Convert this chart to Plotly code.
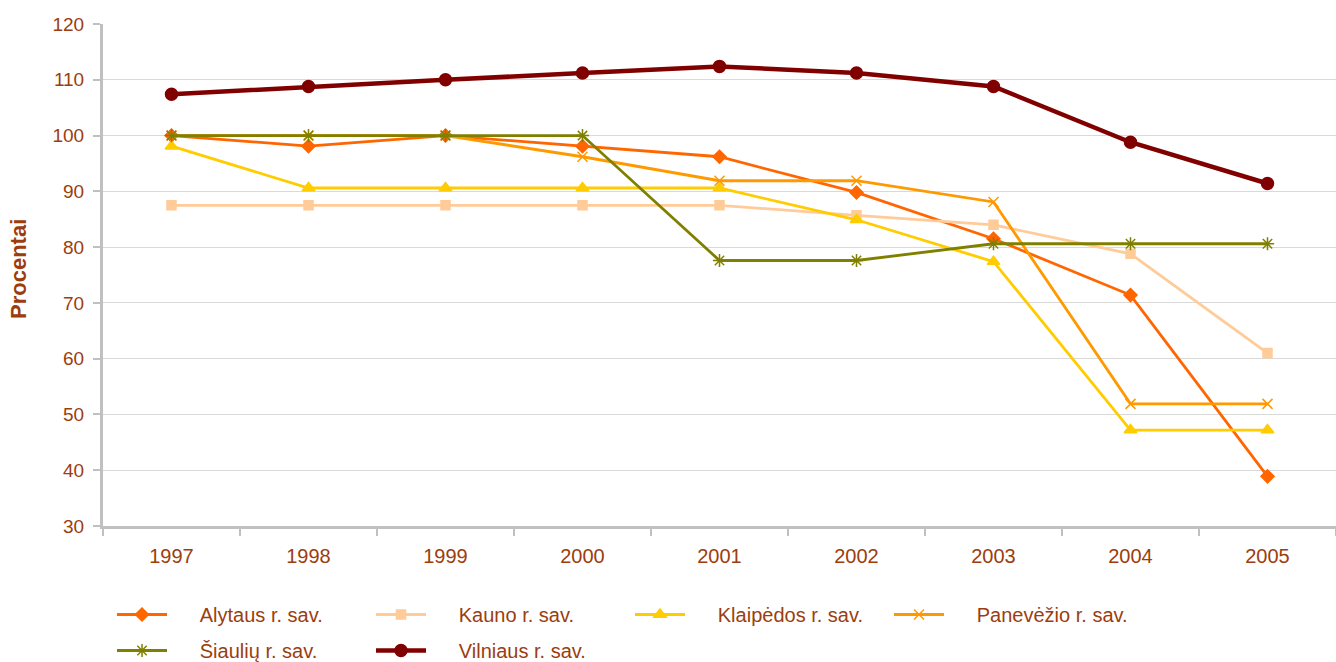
import plotly.graph_objects as go

years = ["1997", "1998", "1999", "2000", "2001", "2002", "2003", "2004", "2005"]

alytaus = [100.0, 98.1, 100.0, 98.1, 96.2, 89.8, 81.5, 71.4, 38.9]
kauno = [87.5, 87.5, 87.5, 87.5, 87.5, 85.7, 84.0, 78.8, 61.0]
klaipedos = [98.1, 90.6, 90.6, 90.6, 90.6, 84.9, 77.4, 47.2, 47.2]
panevezio = [100.0, 100.0, 100.0, 96.2, 91.9, 91.9, 88.1, 51.9, 51.9]
siauliu = [100.0, 100.0, 100.0, 100.0, 77.6, 77.6, 80.6, 80.6, 80.6]
vilniaus = [107.4, 108.8, 110.0, 111.2, 112.4, 111.2, 108.8, 98.8, 91.4]

series = [
    ("Alytaus r. sav.", alytaus, "#FF6600", "diamond", 10, 2.8, "legend"),
    ("Kauno r. sav.", kauno, "#FFCC99", "square", 9, 2.8, "legend"),
    ("Klaipėdos r. sav.", klaipedos, "#FFCC00", "triangle-up", 11, 2.8, "legend"),
    ("Panevėžio r. sav.", panevezio, "#FF9900", "x-thin-open", 10, 2.8, "legend"),
    ("Šiaulių r. sav.", siauliu, "#808000", "asterisk-open", 11, 2.8, "legend2"),
    ("Vilniaus r. sav.", vilniaus, "#800000", "circle", 12, 4.5, "legend2"),
]

text_color = "#9C3D0E"
font_family = "Liberation Sans, Arial, sans-serif"
pad = "\u00a0" * 5

fig = go.Figure()
for name, vals, color, sym, size, lw, lg in series:
    fig.add_trace(go.Scatter(
        x=years, y=vals, name=pad + name, mode="lines+markers",
        line=dict(color=color, width=lw),
        marker=dict(symbol=sym, size=size, color=color,
                    line=dict(color=color, width=1.5)),
        legend=lg,
    ))

legend_common = dict(
    orientation="h", xref="container", yref="container",
    xanchor="left", yanchor="top",
    entrywidth=194, entrywidthmode="pixels", itemwidth=50,
    font=dict(size=20, color=text_color, family=font_family),
    traceorder="normal", bgcolor="rgba(0,0,0,0)",
)

fig.update_layout(
    width=1336, height=662,
    paper_bgcolor="white", plot_bgcolor="white",
    margin=dict(l=103, r=0, t=24, b=136, autoexpand=False),
    font=dict(family=font_family, size=19, color=text_color),
    xaxis=dict(
        type="category", range=[-0.5, 8.5],
        showgrid=False, showline=True, linecolor="#C0C0C0", linewidth=3,
        ticks="outside", tickson="boundaries", ticklen=7, tickwidth=2, tickcolor="#C0C0C0",
        tickfont=dict(size=20, color=text_color),
        ticklabelstandoff=10,
    ),
    yaxis=dict(
        range=[30, 120], dtick=10, tick0=30,
        showgrid=True, gridcolor="#D9D9D9", gridwidth=1,
        showline=True, linecolor="#C0C0C0", linewidth=3,
        ticks="outside", ticklen=7, tickwidth=2, tickcolor="#C0C0C0",
        tickfont=dict(size=19, color=text_color),
        ticklabelstandoff=5,
        zeroline=False,
    ),
    legend=dict(legend_common, x=112 / 1336, y=1 - 595 / 662),
    legend2=dict(legend_common, x=112 / 1336, y=1 - 631 / 662),
    annotations=[dict(
        text="<b>Procentai</b>", xref="paper", yref="paper",
        x=-85 / 1233, y=(526 - 269) / 502, xanchor="center", yanchor="middle",
        textangle=-90, showarrow=False,
        font=dict(size=22, color=text_color, family=font_family),
    )],
)

fig.write_html(
    "out.html",
    config={"displayModeBar": False},
    post_script="document.body.style.margin='0';document.body.style.overflow='hidden';",
)
